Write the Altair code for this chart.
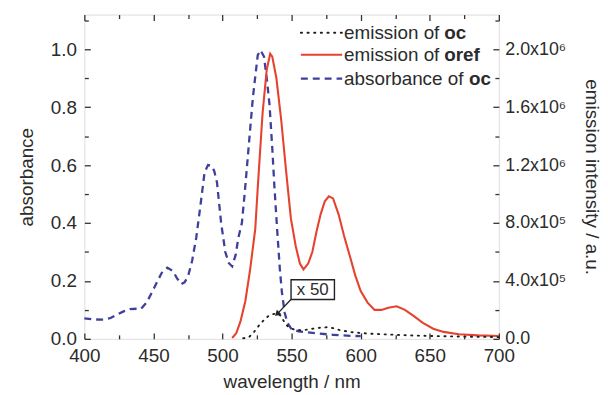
import json
import altair as alt
import pandas as pd

# ---------------- data ----------------
# absorbance of oc (left axis)
abs_wl = [400, 407, 414, 419, 423, 428, 433, 438, 441, 445, 449.5, 453, 456, 460, 464, 467,
          470, 472.5, 475, 478, 481, 484, 487, 489.5, 492, 494, 496, 499, 502, 504.5, 507,
          509.5, 511.5, 514, 516, 518.5, 522, 525.5, 527.5, 530, 532, 534, 536, 537.5, 539.5,
          541.5, 543, 545, 547, 550, 555, 560, 570, 580, 590, 600]
abs_val = [0.071, 0.067, 0.066, 0.072, 0.082, 0.094, 0.103, 0.104, 0.103, 0.125, 0.166, 0.200,
           0.228, 0.246, 0.234, 0.210, 0.189, 0.195, 0.215, 0.270, 0.350, 0.460, 0.575, 0.600,
           0.598, 0.580, 0.540, 0.400, 0.300, 0.262, 0.250, 0.290, 0.350, 0.400, 0.500, 0.640,
           0.835, 0.980, 0.997, 0.975, 0.900, 0.810, 0.660, 0.530, 0.380, 0.240, 0.160, 0.090,
           0.055, 0.033, 0.026, 0.023, 0.018, 0.014, 0.011, 0.009]

# emission of oref (right axis, a.u.)
oref_wl = [507, 510, 513, 516.5, 520, 523.7, 525.6, 529, 532, 534.5, 536, 539, 542.5, 546,
           549.5, 553, 556, 558.6, 562, 565, 568, 571, 574, 577, 580, 584, 588, 592.5, 596,
           600, 605, 610, 615, 620, 626, 632, 638, 645, 652.5, 660, 671, 685, 700]
oref_em = [6e3, 4e4, 1.2e5, 2.6e5, 4.8e5, 7.6e5, 1.06e6, 1.56e6, 1.86e6, 1.97e6, 1.95e6,
           1.80e6, 1.51e6, 1.16e6, 8.3e5, 6.4e5, 5.2e5, 4.8e5, 5.2e5, 6.0e5, 7.4e5, 8.6e5,
           9.5e5, 9.85e5, 9.7e5, 8.6e5, 7.1e5, 5.6e5, 4.4e5, 3.3e5, 2.5e5, 2.0e5, 2.0e5,
           2.15e5, 2.25e5, 2.0e5, 1.6e5, 1.1e5, 7e4, 4.8e4, 3.2e4, 2.4e4, 2e4]

# emission of oc, as plotted (x 50)
oc_wl = [515, 519, 523, 527, 530, 533, 536, 539.5, 542, 546, 549, 552, 556, 560, 564, 568,
         572, 576, 580, 585, 592, 600, 610, 620, 635, 650, 670, 700]
oc_em = [4e3, 1e4, 5e4, 1e5, 1.3e5, 1.56e5, 1.7e5, 1.76e5, 1.6e5, 9.6e4, 7.4e4, 6.4e4, 6e4,
         6.2e4, 6.8e4, 7.4e4, 7.8e4, 8e4, 7.4e4, 6e4, 4.8e4, 4e4, 3.4e4, 3e4, 2.4e4, 2e4,
         1.6e4, 1.2e4]

x_ticks = [400, 450, 500, 550, 600, 650, 700]
x_minor = [425, 475, 525, 575, 625, 675]
y_ticks = [0.0, 0.2, 0.4, 0.6, 0.8, 1.0]
y_minor = [0.1, 0.3, 0.5, 0.7, 0.9, 1.1]
em_tick_labels = ["0.0", "4.0x10\u2075", "8.0x10\u2075", "1.2x10\u2076", "1.6x10\u2076", "2.0x10\u2076"]
EM_PER_ABS = 2.0e6  # 1.0 on the absorbance axis <-> 2.0x10^6 on the emission axis

legend_labels = ["emission of ", "emission of ", "absorbance of "]
legend_bold = ["oc", "oref", "oc"]
legend_y = [1.057, 0.981, 0.899]
legend_x = [556.7, 586.6, 588.0]  # sample start, sample end, text start (nm)

note_text = "x 50"
note_box_x = [549.6, 581.0]
note_box_y = [0.136, 0.204]
note_arrow_x = [549.5, 540.0]
note_arrow_y = [0.136, 0.088]

# ---------------- style ----------------
W, H = 418, 327
FONT = "Liberation Sans"
TXT = "#2b2b2b"
AX = "#333333"
RED = "#e5432f"
BLUE = "#3f3f9c"
DOT = "#1e1e1e"
DOT_DASH = [1.2, 5.5]
BLUE_DASH = [7, 5]

abs_df = pd.DataFrame({"wl": abs_wl, "abs": abs_val})
oref_df = pd.DataFrame({"wl": oref_wl, "em": oref_em})
oc_df = pd.DataFrame({"wl": oc_wl, "em": oc_em})

XS = alt.Scale(domain=[400, 700], nice=False, zero=False)
YS = alt.Scale(domain=[0, 1.12], nice=False, zero=False)


def xenc(field, axis):
    if axis is None:
        return alt.X(f"{field}:Q", scale=XS, axis=None)
    return alt.X(f"{field}:Q", scale=XS, axis=axis)


def yenc(field, axis):
    if axis is None:
        return alt.Y(f"{field}:Q", scale=YS, axis=None)
    return alt.Y(f"{field}:Q", scale=YS, axis=axis)


x_axis = alt.Axis(orient="bottom", values=x_ticks, format="d", ticks=False, domain=False,
                  grid=False, labelFlush=False, labelOverlap=False, labelFontSize=19,
                  labelPadding=8, labelColor=TXT, labelFont=FONT, title="wavelength / nm",
                  titleFontSize=19, titleFontWeight="normal", titleFont=FONT, titleColor=TXT,
                  titlePadding=7)
y_left_axis = alt.Axis(orient="left", values=y_ticks, format=".1f", ticks=False, domain=False,
                       grid=False, labelFlush=False, labelOverlap=False, labelFontSize=19,
                       labelPadding=8, labelColor=TXT, labelFont=FONT, title="absorbance",
                       titleFontSize=19, titleFontWeight="normal", titleFont=FONT,
                       titleColor=TXT, titlePadding=14)
label_expr = json.dumps(em_tick_labels, ensure_ascii=False) + "[round(datum.value * 5)]"
y_right_axis = alt.Axis(orient="right", values=y_ticks, labelExpr=label_expr, ticks=False,
                        domain=False, grid=False, labelFlush=False, labelOverlap=False,
                        labelFontSize=18, labelPadding=6, labelColor=TXT, labelFont=FONT,
                        title="emission intensity / a.u.", titleAngle=90, titleFontSize=19,
                        titleFontWeight="normal", titleFont=FONT, titleColor=TXT,
                        titlePadding=16)


def tick_axis(orient, values, size, offset):
    return alt.Axis(orient=orient, values=values, offset=offset, tickSize=size, tickWidth=1.3,
                    tickColor=AX, labels=False, domain=False, grid=False, title="")


blue = alt.Chart(abs_df).mark_line(color=BLUE, strokeWidth=2.3, strokeDash=BLUE_DASH).encode(
    x=xenc("wl", x_axis), y=yenc("abs", y_left_axis))

red = alt.Chart(oref_df).transform_calculate(y=f"datum.em / {EM_PER_ABS}").mark_line(
    color=RED, strokeWidth=2.1).encode(x=xenc("wl", None), y=yenc("y", y_right_axis))

dotted = alt.Chart(oc_df).transform_calculate(y=f"datum.em / {EM_PER_ABS}").mark_line(
    color=DOT, strokeWidth=1.9, strokeDash=DOT_DASH, strokeCap="round").encode(
    x=xenc("wl", None), y=yenc("y", None))

ticks = []
for xo, yo in (("top", "right"), ("bottom", "left")):
    for xv, yv, sz in ((x_ticks, y_ticks, 6), (x_minor, y_minor, 4)):
        ticks.append(alt.Chart(abs_df).mark_point(opacity=0).encode(
            x=xenc("wl", tick_axis(xo, xv, sz, -H)),
            y=yenc("abs", tick_axis(yo, yv, sz, -W))))

# annotation "x 50"
box_df = pd.DataFrame({"x1": [note_box_x[0]], "x2": [note_box_x[1]],
                       "y1": [note_box_y[0]], "y2": [note_box_y[1]], "label": [note_text]})
box = alt.Chart(box_df).mark_rect(fill="white", stroke="#222222", strokeWidth=1.4).encode(
    x=xenc("x1", None), x2="x2", y=yenc("y1", None), y2="y2")
box_text = alt.Chart(box_df).transform_calculate(
    xc="(datum.x1 + datum.x2) / 2", yc="(datum.y1 + datum.y2) / 2").mark_text(
    font=FONT, fontSize=17, color=TXT, baseline="middle", align="center").encode(
    x=xenc("xc", None), y=yenc("yc", None), text="label:N")
arrow_df = pd.DataFrame({"x1": [note_arrow_x[0]], "x2": [note_arrow_x[1]],
                         "y1": [note_arrow_y[0]], "y2": [note_arrow_y[1]]})
arrow = alt.Chart(arrow_df).mark_rule(color="#222222", strokeWidth=1.4).encode(
    x=xenc("x1", None), x2="x2", y=yenc("y1", None), y2="y2")
head = alt.Chart(arrow_df).mark_point(shape="triangle", filled=True, color="#222222", size=45,
                                      angle=225, opacity=1).encode(
    x=xenc("x2", None), y=yenc("y2", None))

# legend
legend_layers = []
styles = [dict(color=DOT, strokeWidth=1.9, strokeDash=DOT_DASH, strokeCap="round"),
          dict(color=RED, strokeWidth=2.1),
          dict(color=BLUE, strokeWidth=2.3, strokeDash=BLUE_DASH)]
prefix_px = [101, 101, 126]
for i in range(3):
    row = pd.DataFrame({"x1": [legend_x[0]], "x2": [legend_x[1]], "xt": [legend_x[2]],
                        "y": [legend_y[i]], "label": [legend_labels[i]],
                        "bold": [legend_bold[i]]})
    legend_layers.append(alt.Chart(row).mark_rule(**styles[i]).encode(
        x=xenc("x1", None), x2="x2", y=yenc("y", None)))
    legend_layers.append(alt.Chart(row).mark_text(
        font=FONT, fontSize=19, color=TXT, align="left", baseline="middle").encode(
        x=xenc("xt", None), y=yenc("y", None), text="label:N"))
    legend_layers.append(alt.Chart(row).mark_text(
        font=FONT, fontSize=19, fontWeight="bold", color=TXT, align="left",
        baseline="middle", dx=prefix_px[i]).encode(
        x=xenc("xt", None), y=yenc("y", None), text="bold:N"))

chart = alt.layer(blue, red, dotted, *ticks, arrow, head, box, box_text,
                  *legend_layers).resolve_axis(x="independent", y="independent").properties(
    width=W, height=H,
    autosize=alt.AutoSizeParams(type="none"),
    padding={"left": 77, "top": 5, "right": 102, "bottom": 54},
).configure_view(stroke=AX, strokeWidth=1.4).configure(background="white")

chart.save("out.html", embed_options={"renderer": "svg", "actions": False})
